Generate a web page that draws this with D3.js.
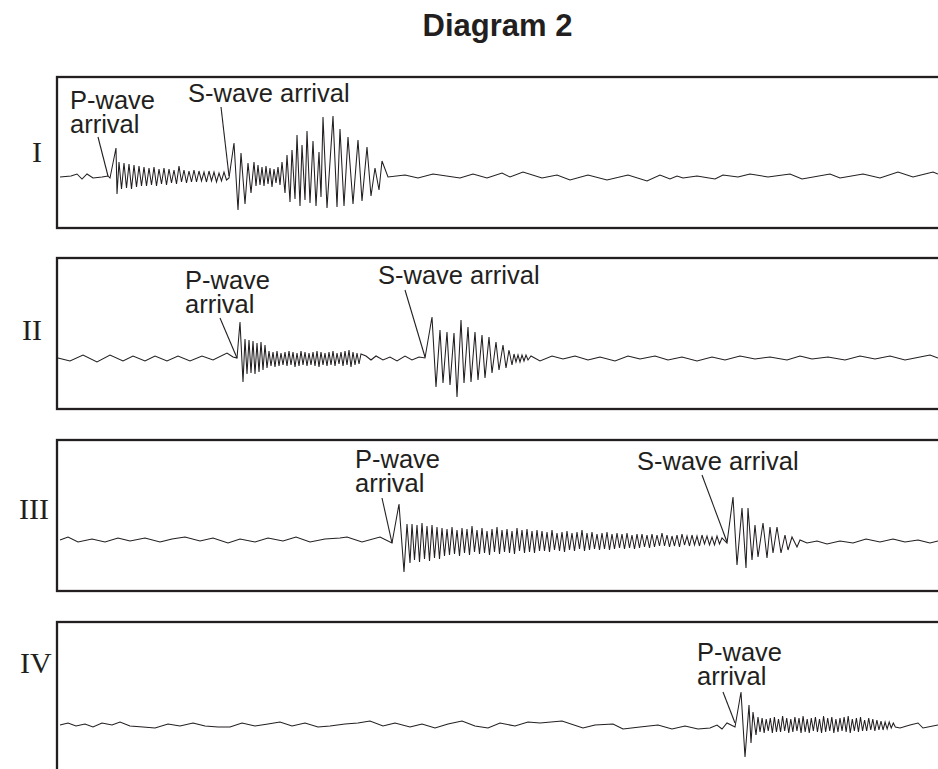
<!DOCTYPE html>
<html>
<head>
<meta charset="utf-8">
<script src="https://d3js.org/d3.v7.min.js"></script>
<style>
    body { margin: 0; background: #fff; }
    svg { display: block; }
</style>
</head>
<body>
<svg id="chart"></svg>
<script>
    var W = 938, H = 769;
    var ink = "#231f20";

    // a regularly sampled stretch of record: start time, sample step, amplitudes
    function run(t0, dt, amps) {
        return amps.map(function(a, i) { return [t0 + i * dt, a]; });
    }

    var stations = ["I", "II", "III", "IV"];

    // ---- station I ----
    var traceI = [].concat(
        [[2,0],[13,1],[19,3],[24,-2],[29,3],[35,-1],[44,0],[50,1],[52,-1],[58,29],[59,-17]],
        run(61, 2.5, [15,-12,14,-11,13,-12,12,-10,11,-9,10,-9,9,-8,10,-9,8,-7,9,-8,
                      8,-6,7,-7,11,-5,7,-6,6,-5,7,-5,6,-4,5,-5,6,-4,5,-5,4,-4,5,-3]),
        [[171,-1],[176,34],[180,-33],[183,24],[187,-27],[190,14],[193,-16],[196,15]],
        run(198, 2, [-9,12,-8,10,-9,11,-7,9,-10,8,-6,10,-8]),
        [[224,15],[227,-16],[229,22],[232,-25],[234,27],[237,-22],[239,42],[242,-29],[244,32],[247,-23],
         [249,46],[252,-26],[255,36],[258,-29],[261,25],[263,-20],[265,60],[269,-31],[275,61],[279,-30],
         [282,48],[286,-29],[290,40],[295,-27],[300,37],[304,-24],[309,30],[313,-19],[317,9],[321,-13],
         [324,16],[330,0]],
        [[347,2],[360,-1],[375,3],[402,-1],[415,3],[429,-1],[444,4],[452,0],[465,5],[484,-1],[499,2],
         [512,-3],[530,2],[549,-3],[570,2],[589,-4],[602,2],[612,-2],[619,1],[625,-1],[639,1],[657,-2],
         [665,2],[680,0],[692,3],[710,0],[732,3],[744,-2],[772,3],[782,-1],[805,3],[822,-1],[840,5],
         [855,0],[875,5],[880,3]]
    );

    // ---- station II ----
    var traceII = [].concat(
        [[0,0],[12,-3],[25,3],[39,-4],[52,3],[65,-3],[75,2],[87,-3],[97,2],[109,-3],[120,2],[132,-3],
         [144,2],[155,-2],[169,5],[175,1],[179,0],[182,36],[185,-24]],
        run(187, 2, [19,-16,18,-15,17,-16,15,-14,16,-12,13,-10,
                     7,-8,6,-9,7,-8,5,-7,6,-8,7,-7,6,-9,5,-8,7,-7,6,-8,
                     5,-7,6,-8,7,-9,6,-7,5,-8,6,-7,7,-8,5,-6,6,-8,7,-7,
                     8,-9,6,-7,5,-6,4]),
        [[308,2],[313,-2],[318,2],[325,-2],[332,1],[339,-3],[347,2],[354,-2],[361,1],[367,0]],
        [[374,41],[378,-29],[382,28],[385,-25],[389,26],[392,-27],[396,25],[399,-39],[403,38],[406,-25],
         [410,31],[413,-24],[417,26],[420,-22],[424,23],[427,-20],[431,21],[434,-15],[438,16],[441,-12],
         [445,13],[448,-10],[451,8],[454,-7]],
        [[456,4],[458,-4],[460,3],[462,-4],[464,3],[466,-3],[468,3],[470,-2],[473,2]],
        [[482,-3],[494,2],[505,-1],[517,2],[530,-2],[542,1],[557,-3],[570,2],[582,-1],[597,2],[610,-2],
         [624,1],[639,-3],[654,1],[667,-2],[682,2],[697,-1],[712,1],[729,-2],[742,2],[754,-1],[770,1],
         [787,-2],[802,2],[817,-1],[832,2],[847,-2],[862,1],[872,3],[880,0]]
    );

    // ---- station III ----
    var traceIII = [].concat(
        [[2,0],[10,3],[20,-2],[34,1],[47,-2],[60,2],[72,-1],[87,2],[102,-2],[114,1],[127,3],[142,-1],
         [155,2],[170,-3],[182,1],[197,-2],[210,2],[225,-1],[238,3],[252,-2],[267,1],[282,2],[289,3],
         [304,-2],[322,3],[334,-3],[341,36],[346,-32],[349,16],[352,-23]],
        run(354, 2.5, [16,-20,15,-22,17,-19,14,-21,15,-18,13,-19,
                       12,-16,11,-15,13,-14,10,-16,12,-13,11,-15,14,-12,10,-14,12,-13,9,-15,
                       11,-12,13,-14,10,-12,11,-13,9,-14,12,-11,10,-13,11,-12,9,-13,10,-11,
                       9,-11,8,-12,10,-10,7,-11,8,-12,9,-10,7,-11,8,-9,10,-11,7,-10,
                       8,-9,6,-10,7,-9,8,-10,6,-9,7,-8,6,-9,7,-8,5,-9,6,-8,
                       6,-7,5,-8,6,-7,5,-6,7,-6,5,-7,4,-6,5,-7,6,-5,4,-6,
                       5,-5,4,-6,5,-4,4,-5,3,-5,4,-4,2]),
        [[669,-3],[675,43],[679,-25],[684,32],[688,-28],[690,32],[694,-20],[697,15],[700,-17],[705,17],
         [709,-18],[712,13],[715,-13],[719,13],[723,-13],[727,5],[730,-10],[734,3],[739,-7],[742,0]],
        [[749,-3],[759,-1],[769,-4],[782,-1],[795,-3],[808,1],[822,-2],[835,1],[847,-2],[860,0],
         [872,-3],[880,-1]]
    );

    // ---- station IV ----
    var traceIV = [].concat(
        [[2,0],[10,2],[18,-1],[27,1],[35,-2],[44,2],[54,0],[62,3],[72,-1],[85,-2],[97,-3],[110,1],
         [122,-1],[135,2],[147,-1],[160,-2],[172,-2],[184,2],[197,-1],[210,1],[222,3],[234,-1],[247,2],
         [260,-2],[272,-1],[287,1],[300,2],[312,4],[325,-1],[337,2],[352,-2],[364,1],[377,-3],[390,1],
         [404,4],[417,-1],[430,-3],[442,2],[457,-1],[470,3],[482,2],[504,4],[525,-3],[537,0],[555,1],
         [565,-4],[582,-2],[600,0],[614,-4],[627,-1],[640,-4],[652,-3],[659,0],[664,-4],[669,2],[677,-2],
         [683,33],[687,-32],[691,20],[693,-18],[695,13],[698,-10]],
        run(700, 2.05, [8,-7,7,-8,6,-6,7,-8,8,-7,6,-7,9,-6,7,-8,6,-7,8,-6,
                        7,-8,9,-7,6,-8,7,-6,8,-7,6,-8,9,-7,7,-6,8,-8,6,-7,
                        7,-6,8,-7,9,-8,6,-6,7,-7,8,-6,5,-6,7,-5,6,-6,5,-5,
                        4,-5,3,-4,3,-3,2,-2]),
        [[842,-3],[852,0],[860,2],[865,-3],[880,0]]
    );

    var traces = [traceI, traceII, traceIII, traceIV];

    // arrival picks [time, amplitude] per station
    var pArrivals = [[50, 1], [179, 0], [334, -3], [677, 2]];
    var sArrivals = [[171, 1], [367, 1], [669, -2], null];

    // ---- layout ----
    var boxLeft = 57, boxH = 151;
    var panelTop = [77, 258, 440, 622];
    var baseOffset = [100, 100, 100, 103];
    var numeral = [{x: 32, y: 162}, {x: 22, y: 340}, {x: 19, y: 519}, {x: 20, y: 673}];
    var pLabel = [{x: 70, y: 109, lx: 98, ly: 137}, {x: 185, y: 289, lx: 220, ly: 318},
                  {x: 355, y: 468, lx: 382, ly: 498}, {x: 697, y: 661, lx: 723, ly: 692}];
    var sLabel = [{x: 188, y: 102, lx: 221, ly: 107}, {x: 378, y: 284, lx: 405, ly: 290},
                  {x: 637, y: 470, lx: 702, ly: 475}, null];

    var sans = "'Liberation Sans', Arial, Helvetica, sans-serif";
    var serif = "'Liberation Serif', 'Times New Roman', Times, serif";

    var svg = d3.select("#chart").attr("width", W).attr("height", H);

    svg.append("text")
        .attr("x", boxLeft + (W - boxLeft) / 2).attr("y", 36)
        .attr("text-anchor", "middle")
        .attr("font-family", sans).attr("font-weight", "bold").attr("font-size", 31)
        .attr("fill", ink)
        .text("Diagram 2");

    var x = d3.scaleLinear().domain([0, 880]).range([58, 938]);

    stations.forEach(function(name, i) {
        var top = panelTop[i];
        var base = top + baseOffset[i];
        var y = d3.scaleLinear().domain([-60, 60]).range([base + 60, base - 60]);
        var g = svg.append("g").attr("class", "station");

        g.append("rect")
            .attr("x", boxLeft).attr("y", top)
            .attr("width", 920).attr("height", boxH)
            .attr("fill", "none").attr("stroke", ink).attr("stroke-width", 2.3);

        g.append("text")
            .attr("x", numeral[i].x).attr("y", numeral[i].y)
            .attr("font-family", serif).attr("font-size", 30)
            .attr("fill", ink)
            .text(name);

        var line = d3.line()
            .x(function(d) { return x(d[0]); })
            .y(function(d) { return y(d[1]); });

        g.append("path")
            .datum(traces[i])
            .attr("d", line)
            .attr("fill", "none").attr("stroke", ink)
            .attr("stroke-width", 1.05).attr("stroke-linejoin", "miter");

        function label(lab, arr, lines) {
            var t = g.append("text")
                .attr("font-family", sans).attr("font-size", 25.5)
                .attr("fill", ink);
            lines.forEach(function(s, k) {
                t.append("tspan").attr("x", lab.x).attr("y", lab.y + k * 24).text(s);
            });
            g.append("line")
                .attr("x1", lab.lx).attr("y1", lab.ly)
                .attr("x2", x(arr[0])).attr("y2", y(arr[1]))
                .attr("stroke", ink).attr("stroke-width", 1.1);
        }

        label(pLabel[i], pArrivals[i], ["P-wave", "arrival"]);
        if (sArrivals[i]) label(sLabel[i], sArrivals[i], ["S-wave arrival"]);
    });
</script>
</body>
</html>
